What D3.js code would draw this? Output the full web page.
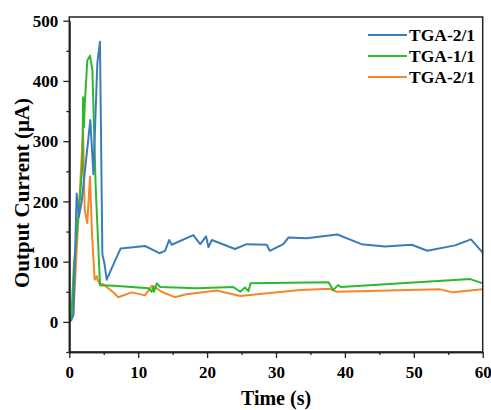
<!DOCTYPE html>
<html>
<head>
<meta charset="utf-8">
<script src="https://cdn.jsdelivr.net/npm/d3@7/dist/d3.min.js"></script>
<style>
  html, body { margin: 0; padding: 0; background: #fff; }
  svg { display: block; }
  .tick text { font-family: "Liberation Serif", "Times New Roman", serif; font-weight: bold; font-size: 17px; fill: #000; }
</style>
</head>
<body>
<svg id="chart" width="491" height="410"></svg>
<script>
// Output current of three samples over time
const seriesNames = ["TGA-2/1", "TGA-1/1", "TGA-2/1"];
const seriesColors = ["#3a7dbb", "#2eb82e", "#f5862a"];

const blueTime = [0, 0.3, 0.6, 1.07, 1.4, 1.8, 3.05, 3.5, 4.07, 4.45, 4.8, 5.1, 5.43, 6.5, 7.46, 11.0, 13.07, 13.9, 14.5, 14.86, 18.0, 19.0, 19.85, 20.2, 20.7, 24.05, 25.75, 28.65, 29.1, 31.06, 31.8, 34.45, 38.9, 42.4, 45.8, 49.7, 51.96, 55.98, 58.3, 60];
const blueCurrent = [0.5, 3, 12, 213, 175, 200, 335, 245, 430, 465, 112, 97, 70, 98, 122, 126, 114, 118, 136, 128, 144, 129, 142, 124, 136, 121, 129, 128, 118, 129, 140, 139, 145, 129, 125, 128, 118, 127, 137, 115];

const greenTime = [0, 0.3, 0.68, 1.4, 1.9, 2.0, 2.13, 2.23, 2.61, 3.0, 3.35, 3.83, 4.46, 6.5, 11.5, 11.95, 12.2, 12.3, 12.7, 13.2, 18.5, 23.8, 24.8, 25.5, 26.0, 26.3, 37.6, 38.3, 39.0, 39.4, 58.2, 60];
const greenCurrent = [0, 8, 97, 185, 260, 373, 323, 357, 434, 442, 418, 224, 61, 60, 56, 50, 58, 50, 64, 58, 56, 58, 50, 57, 51, 64, 66, 53, 61, 58, 71, 64];

const orangeTime = [0, 0.3, 0.58, 2.0, 2.23, 2.61, 3.0, 3.3, 3.68, 4.0, 4.1, 4.46, 4.9, 6.5, 7.1, 9.05, 11.0, 11.96, 12.4, 13.4, 15.3, 17.0, 21.4, 24.8, 33.5, 37.8, 38.8, 53.8, 55.7, 60];
const orangeCurrent = [0, 5, 12, 318, 186, 164, 241, 145, 70, 76, 70, 62, 63, 48, 41, 49, 44, 60, 58, 50, 41, 46, 52, 43, 53, 55, 50, 54, 49, 54];

const xTicks = [0, 10, 20, 30, 40, 50, 60];
const xMinorTicks = [5, 15, 25, 35, 45, 55];
const yTicks = [0, 100, 200, 300, 400, 500];
const yMinorTicks = [-50, 50, 150, 250, 350, 450];

const series = [
  { name: seriesNames[0], color: seriesColors[0], t: blueTime, v: blueCurrent },
  { name: seriesNames[1], color: seriesColors[1], t: greenTime, v: greenCurrent },
  { name: seriesNames[2], color: seriesColors[2], t: orangeTime, v: orangeCurrent }
];

const svg = d3.select("#chart");
const plotLeft = 69.3, plotRight = 482.7, plotTop = 17, plotBottom = 352;

const x = d3.scaleLinear().domain([0, 60]).range([plotLeft, plotRight]);
const y = d3.scaleLinear().domain([-50, 500]).range([plotBottom, 20.7]);

// Data lines, clipped to the plot box
svg.append("clipPath").attr("id", "plotClip")
  .append("rect").attr("x", plotLeft).attr("y", plotTop)
  .attr("width", plotRight - plotLeft).attr("height", plotBottom - plotTop);

const line = d3.line().x(d => x(d[0])).y(d => y(d[1]));
const g = svg.append("g").attr("clip-path", "url(#plotClip)");
// orange first, then green, then blue on top
[series[2], series[1], series[0]].forEach(s => {
  g.append("path")
    .datum(s.t.map((t, i) => [t, s.v[i]]))
    .attr("fill", "none")
    .attr("stroke", s.color)
    .attr("stroke-width", 2)
    .attr("stroke-linejoin", "round")
    .attr("d", line);
});

// Frame
svg.append("rect")
  .attr("x", plotLeft).attr("y", plotTop)
  .attr("width", plotRight - plotLeft).attr("height", plotBottom - plotTop)
  .attr("fill", "none").attr("stroke", "#222").attr("stroke-width", 1.5);

// Axes
const xAxis = svg.append("g").attr("transform", `translate(0,${plotBottom})`)
  .call(d3.axisBottom(x).tickValues(xTicks).tickSize(6).tickSizeOuter(0).tickPadding(5).tickFormat(d3.format("d")));
const xMinor = svg.append("g").attr("transform", `translate(0,${plotBottom})`)
  .call(d3.axisBottom(x).tickValues(xMinorTicks).tickSize(3).tickSizeOuter(0).tickFormat(""));
const yAxis = svg.append("g").attr("transform", `translate(${plotLeft},0)`)
  .call(d3.axisLeft(y).tickValues(yTicks).tickSize(6).tickSizeOuter(0).tickPadding(5).tickFormat(d3.format("d")));
const yMinor = svg.append("g").attr("transform", `translate(${plotLeft},0)`)
  .call(d3.axisLeft(y).tickValues(yMinorTicks).tickSize(3).tickSizeOuter(0).tickFormat(""));

[xAxis, xMinor, yAxis, yMinor].forEach(a => {
  a.select(".domain").attr("stroke", "#222").attr("stroke-width", 1.5);
  a.selectAll(".tick line").attr("stroke", "#222").attr("stroke-width", 1.3);
});
xAxis.selectAll(".tick text").attr("dy", "0.9em");
yAxis.selectAll(".tick text").attr("dy", "0.34em");

// Axis titles
svg.append("text")
  .attr("x", (plotLeft + plotRight) / 2).attr("y", 405)
  .attr("text-anchor", "middle")
  .style("font-family", "'Liberation Serif', 'Times New Roman', serif")
  .style("font-weight", "bold").style("font-size", "20px")
  .text("Time (s)");

svg.append("text")
  .attr("transform", "translate(29,193) rotate(-90)")
  .attr("text-anchor", "middle")
  .style("font-family", "'Liberation Serif', 'Times New Roman', serif")
  .style("font-weight", "bold").style("font-size", "21px")
  .text("Output Current (μA)");

// Legend
const legend = svg.append("g");
series.forEach((s, i) => {
  const ly = 35 + i * 21;
  legend.append("line")
    .attr("x1", 368).attr("x2", 407).attr("y1", ly).attr("y2", ly)
    .attr("stroke", s.color).attr("stroke-width", 2);
  legend.append("text")
    .attr("x", 409).attr("y", ly + 6)
    .style("font-family", "'Liberation Serif', 'Times New Roman', serif")
    .style("font-weight", "bold").style("font-size", "17.5px")
    .text(s.name);
});
</script>
</body>
</html>
